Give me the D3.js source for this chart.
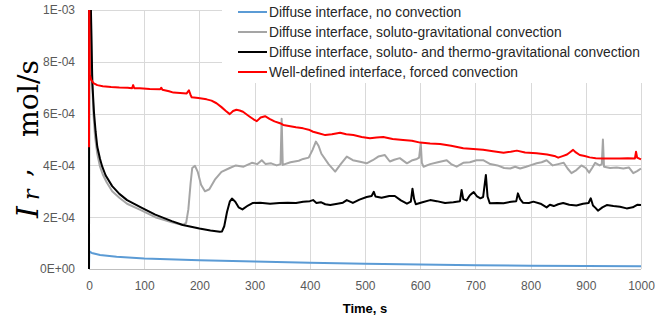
<!DOCTYPE html>
<html>
<head>
<meta charset="utf-8">
<script src="https://cdn.jsdelivr.net/npm/d3@7"></script>
<style>
  body { margin: 0; background: #fff; }
  svg { display: block; }
</style>
</head>
<body>
<svg id="chart" width="669" height="320"></svg>
<script>
// series names (legend order)
const seriesNames = [
  "Diffuse interface, no convection",
  "Diffuse interface, soluto-gravitational convection",
  "Diffuse interface, soluto- and thermo-gravitational convection",
  "Well-defined interface, forced convection"
]
const seriesColors = ["#5b9bd5", "#a5a5a5", "#000000", "#ff0000"]

const xTicks = [0, 100, 200, 300, 400, 500, 600, 700, 800, 900, 1000]
const yTicks = [0, 2e-4, 4e-4, 6e-4, 8e-4, 1e-3]
const yTickLabels = ["0E+00", "2E-04", "4E-04", "6E-04", "8E-04", "1E-03"]

// [time s, rate mol/s]
const blueData = [
  [0, 0], [0.5, 7e-5], [1, 6.7e-5], [5, 6.2e-5], [20, 5.4e-5], [50, 4.7e-5], [100, 4.1e-5],
  [200, 3.4e-5], [300, 2.9e-5], [400, 2.4e-5], [500, 2.0e-5], [600, 1.7e-5],
  [700, 1.45e-5], [800, 1.3e-5], [900, 1.15e-5], [1000, 1.05e-5]
]

const grayData = [
  [0, 0], [0.5, 2e-3], [2.5, 1.1e-3], [5, 7.8e-4], [8, 6.0e-4], [11, 5.1e-4], [15, 4.45e-4],
  [20, 3.95e-4], [25, 3.65e-4], [32, 3.35e-4], [42, 3.0e-4], [55, 2.75e-4], [69, 2.52e-4],
  [94, 2.27e-4], [120, 2.0e-4], [150, 1.8e-4], [170, 1.7e-4], [176, 1.78e-4], [180, 2.3e-4],
  [184, 3.3e-4], [187, 3.9e-4], [192, 3.98e-4], [197, 3.75e-4], [203, 3.25e-4], [210, 3.0e-4],
  [218, 3.08e-4], [228, 3.45e-4], [240, 3.75e-4], [255, 3.9e-4], [266, 4.0e-4], [280, 3.95e-4],
  [295, 4.1e-4], [305, 4.05e-4], [313, 4.2e-4], [320, 4.05e-4], [330, 4.08e-4], [340, 4.0e-4],
  [347, 4.05e-4], [349, 5.8e-4], [351, 4.02e-4], [365, 4.12e-4], [380, 4.18e-4], [388, 4.25e-4],
  [398, 4.3e-4], [405, 4.6e-4], [411, 4.92e-4], [416, 4.75e-4], [421, 4.45e-4], [434, 4.05e-4],
  [446, 3.76e-4], [456, 4.05e-4], [467, 4.34e-4], [478, 4.2e-4], [491, 4.14e-4], [503, 4.08e-4],
  [514, 4.2e-4], [524, 4.34e-4], [536, 4.4e-4], [545, 4.15e-4], [553, 4.22e-4], [563, 4.28e-4],
  [576, 4.08e-4], [586, 4.2e-4], [594, 4.25e-4], [598, 4.3e-4], [601, 4.85e-4], [603, 4.1e-4],
  [606, 3.95e-4], [618, 4.05e-4], [632, 4.12e-4], [648, 4.2e-4], [656, 4.05e-4], [666, 3.95e-4],
  [678, 4.1e-4], [690, 4.12e-4], [702, 4.2e-4], [714, 4.2e-4], [727, 4.05e-4], [740, 4.0e-4],
  [752, 3.9e-4], [763, 3.88e-4], [772, 3.95e-4], [781, 3.88e-4], [792, 3.95e-4], [802, 4.02e-4],
  [811, 4.08e-4], [820, 4.12e-4], [829, 4.2e-4], [840, 4.0e-4], [850, 4.05e-4], [860, 4.1e-4],
  [867, 3.88e-4], [874, 3.7e-4], [883, 3.82e-4], [892, 4.0e-4], [900, 3.9e-4], [906, 3.72e-4],
  [912, 3.92e-4], [917, 4.1e-4], [925, 4.0e-4], [929, 4.05e-4], [931, 5.0e-4], [933, 3.95e-4],
  [944, 3.9e-4], [956, 3.92e-4], [968, 3.88e-4], [978, 3.92e-4], [986, 3.7e-4], [993, 3.78e-4],
  [1000, 3.88e-4]
]

const blackData = [
  [0, 0], [0.7, 2e-3], [3.5, 1.0e-3], [6, 7.2e-4], [9, 6.05e-4], [12, 5.3e-4], [15, 4.72e-4],
  [20, 4.25e-4], [24, 3.95e-4], [30, 3.62e-4], [42, 3.2e-4], [55, 2.9e-4], [69, 2.66e-4],
  [94, 2.38e-4], [120, 2.1e-4], [150, 1.85e-4], [170, 1.7e-4], [200, 1.56e-4], [220, 1.49e-4],
  [237, 1.44e-4], [241, 1.45e-4], [245, 1.65e-4], [250, 2.2e-4], [255, 2.6e-4], [259, 2.72e-4],
  [265, 2.6e-4], [271, 2.38e-4], [278, 2.3e-4], [288, 2.45e-4], [297, 2.55e-4], [310, 2.56e-4],
  [328, 2.52e-4], [345, 2.55e-4], [360, 2.56e-4], [375, 2.55e-4], [388, 2.6e-4], [400, 2.62e-4],
  [406, 2.66e-4], [412, 2.55e-4], [420, 2.58e-4], [428, 2.5e-4], [437, 2.47e-4], [450, 2.52e-4],
  [460, 2.56e-4], [467, 2.66e-4], [478, 2.55e-4], [490, 2.68e-4], [503, 2.78e-4], [512, 2.82e-4],
  [516, 2.98e-4], [519, 2.8e-4], [530, 2.75e-4], [544, 2.82e-4], [554, 2.82e-4], [565, 2.65e-4],
  [576, 2.52e-4], [583, 2.6e-4], [586, 3.1e-4], [589, 2.7e-4], [592, 2.5e-4], [604, 2.58e-4],
  [618, 2.66e-4], [630, 2.62e-4], [645, 2.55e-4], [660, 2.58e-4], [672, 2.62e-4], [675, 3.05e-4],
  [678, 2.7e-4], [684, 2.65e-4], [690, 2.85e-4], [694, 2.92e-4], [697, 2.97e-4], [703, 2.8e-4],
  [709, 2.73e-4], [714, 2.78e-4], [719, 3.63e-4], [722, 2.8e-4], [726, 2.54e-4], [740, 2.55e-4],
  [751, 2.54e-4], [765, 2.6e-4], [774, 2.62e-4], [777, 2.92e-4], [781, 2.7e-4], [786, 2.56e-4],
  [797, 2.55e-4], [805, 2.6e-4], [818, 2.52e-4], [829, 2.38e-4], [835, 2.48e-4], [842, 2.43e-4],
  [850, 2.5e-4], [859, 2.55e-4], [870, 2.48e-4], [883, 2.45e-4], [895, 2.52e-4], [905, 2.55e-4],
  [909, 2.73e-4], [913, 2.45e-4], [918, 2.35e-4], [922, 2.25e-4], [930, 2.38e-4], [938, 2.47e-4],
  [950, 2.43e-4], [962, 2.4e-4], [974, 2.34e-4], [985, 2.38e-4], [993, 2.48e-4], [1000, 2.47e-4]
]

const redData = [
  [0, 4.7e-4], [0.3, 1.05e-3], [1.5, 7.5e-4], [4, 7.3e-4], [8, 7.18e-4], [15, 7.1e-4],
  [25, 7.06e-4], [40, 7.03e-4], [55, 7.01e-4], [70, 7.0e-4], [78, 6.98e-4], [80, 7.1e-4],
  [82, 6.98e-4], [92, 6.98e-4], [110, 6.95e-4], [129, 6.94e-4], [131, 7.0e-4], [133, 6.92e-4],
  [145, 6.86e-4], [153, 6.81e-4], [165, 6.8e-4], [177, 6.78e-4], [181, 6.9e-4], [184, 6.72e-4],
  [186, 6.63e-4], [198, 6.6e-4], [213, 6.55e-4], [222, 6.5e-4], [231, 6.4e-4], [240, 6.25e-4],
  [248, 6.1e-4], [255, 5.98e-4], [261, 6.1e-4], [267, 6.15e-4], [273, 6.12e-4], [279, 6.07e-4],
  [290, 5.9e-4], [298, 5.78e-4], [304, 5.71e-4], [311, 5.85e-4], [319, 5.9e-4], [327, 5.8e-4],
  [336, 5.7e-4], [346, 5.63e-4], [352, 5.56e-4], [362, 5.52e-4], [375, 5.47e-4], [388, 5.43e-4],
  [398, 5.38e-4], [406, 5.3e-4], [416, 5.24e-4], [428, 5.17e-4], [440, 5.2e-4], [455, 5.26e-4],
  [466, 5.2e-4], [479, 5.17e-4], [494, 5.1e-4], [509, 5.05e-4], [521, 5.08e-4], [533, 5.1e-4],
  [550, 5.02e-4], [569, 4.98e-4], [585, 4.95e-4], [600, 4.88e-4], [618, 4.85e-4], [636, 4.83e-4],
  [656, 4.76e-4], [678, 4.66e-4], [696, 4.63e-4], [714, 4.6e-4], [732, 4.55e-4], [751, 4.49e-4],
  [764, 4.53e-4], [775, 4.57e-4], [790, 4.5e-4], [811, 4.47e-4], [830, 4.42e-4], [845, 4.35e-4],
  [850, 4.3e-4], [858, 4.36e-4], [866, 4.42e-4], [872, 4.52e-4], [877, 4.6e-4], [882, 4.5e-4],
  [889, 4.4e-4], [898, 4.36e-4], [907, 4.31e-4], [918, 4.28e-4], [931, 4.27e-4], [946, 4.27e-4],
  [962, 4.27e-4], [976, 4.28e-4], [989, 4.27e-4], [991, 4.53e-4], [993, 4.3e-4], [1000, 4.23e-4]
]

const allSeries = [blueData, grayData, blackData, redData]

const MARGIN = { LEFT: 89, RIGHT: 28, TOP: 10, BOTTOM: 51 }
const WIDTH = 669 - MARGIN.LEFT - MARGIN.RIGHT
const HEIGHT = 320 - MARGIN.TOP - MARGIN.BOTTOM
const SANS = "Liberation Sans, Arial, sans-serif"

const svg = d3.select("#chart")
const g = svg.append("g").attr("transform", `translate(${MARGIN.LEFT}, ${MARGIN.TOP})`)

// scales
const x = d3.scaleLinear().domain([0, 1000]).range([0, WIDTH])
const y = d3.scaleLinear().domain([0, 1e-3]).range([HEIGHT, 0])

// gridlines
g.append("g").selectAll("line").data(yTicks).join("line")
  .attr("x1", 0).attr("x2", WIDTH)
  .attr("y1", d => Math.round(y(d)) + 0.5).attr("y2", d => Math.round(y(d)) + 0.5)
  .attr("stroke", "#d9d9d9").attr("stroke-width", 1)
g.append("g").selectAll("line").data(xTicks).join("line")
  .attr("x1", d => Math.round(x(d)) + 0.5).attr("x2", d => Math.round(x(d)) + 0.5)
  .attr("y1", 0).attr("y2", HEIGHT)
  .attr("stroke", "#d9d9d9").attr("stroke-width", 1)

// axes (labels only, Excel style)
const xAxis = g.append("g").attr("transform", `translate(0, ${HEIGHT})`)
  .call(d3.axisBottom(x).tickValues(xTicks).tickSize(0).tickPadding(12).tickFormat(d3.format("d")))
const yAxis = g.append("g")
  .call(d3.axisLeft(y).tickValues(yTicks).tickSize(0).tickPadding(14).tickFormat((d, i) => yTickLabels[i]))
;[xAxis, yAxis].forEach(a => {
  a.select(".domain").remove()
  a.selectAll("text").attr("fill", "#595959").style("font-family", SANS).style("font-size", "12px")
})
g.append("line").attr("x1", 0).attr("x2", WIDTH).attr("y1", HEIGHT + 0.5).attr("y2", HEIGHT + 0.5)
  .attr("stroke", "#bfbfbf")

// clip
svg.append("clipPath").attr("id", "plotClip").append("rect")
  .attr("x", -2).attr("y", 0).attr("width", WIDTH + 4).attr("height", HEIGHT)

const line = d3.line().x(d => x(d[0])).y(d => y(d[1]))
g.append("g").attr("clip-path", "url(#plotClip)")
  .selectAll("path").data(allSeries).join("path")
  .attr("d", d => line(d))
  .attr("fill", "none")
  .attr("stroke", (d, i) => seriesColors[i])
  .attr("stroke-width", 2)
  .attr("stroke-linejoin", "round")

// legend
const legend = svg.append("g")
legend.append("rect").attr("x", 222).attr("y", 0).attr("width", 447).attr("height", 83).attr("fill", "#fff")
const rows = legend.selectAll("g").data(seriesNames).join("g")
  .attr("transform", (d, i) => `translate(238, ${12 + i * 20})`)
rows.append("line").attr("x1", 0).attr("x2", 29).attr("y1", 0).attr("y2", 0)
  .attr("stroke", (d, i) => seriesColors[i]).attr("stroke-width", 2)
rows.append("text").attr("x", 31).attr("y", 0).attr("dy", "0.35em")
  .attr("fill", "#262626").style("font-family", SANS).style("font-size", "13.8px")
  .text(d => d)

// axis titles
svg.append("text").attr("x", 365).attr("y", 313)
  .attr("text-anchor", "middle").attr("fill", "#000")
  .style("font-family", SANS).style("font-size", "13px").style("font-weight", "bold")
  .text("Time, s")

const SERIF = "DejaVu Serif, serif"
svg.append("text").attr("transform", "translate(38, 218) rotate(-90)")
  .style("font-family", SERIF).style("font-style", "italic").style("font-size", "30px").text("I")
svg.append("text").attr("transform", "translate(39, 200) rotate(-90)")
  .style("font-family", SERIF).style("font-style", "italic").style("font-size", "22px").text("r")
svg.append("text").attr("transform", "translate(30, 177) rotate(-90)")
  .style("font-family", SERIF).style("font-size", "28px").text(",")
svg.append("text").attr("transform", "translate(38, 137) rotate(-90)")
  .attr("textLength", 77).attr("lengthAdjust", "spacingAndGlyphs")
  .style("font-family", SERIF).style("font-size", "28px").text("mol/s")
</script>
</body>
</html>
